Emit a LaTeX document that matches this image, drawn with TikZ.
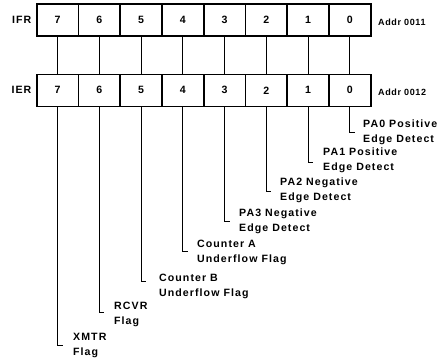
\documentclass[tikz,border=0pt]{standalone}
\usepackage{fontspec}
\newfontfamily\labfont{Liberation Sans}[LetterSpace=10]
\newfontfamily\addrfont{Liberation Sans}[LetterSpace=7]
\begin{document}
\begin{tikzpicture}[x=1pt,y=-1pt,
  lab/.style={font=\labfont\bfseries\fontsize{10.6}{15}\selectfont, inner sep=0pt},
  addr/.style={font=\addrfont\bfseries\fontsize{9}{11}\selectfont, inner sep=0pt, anchor=west},
  cell/.style={draw, line width=1.6pt, minimum width=41.75pt, minimum height=32pt, inner sep=0pt, font=\labfont\bfseries\fontsize{10.6}{12}\selectfont},
  thin/.style={line width=0.8pt},
  desc/.style={lab, align=left, anchor=west}]
\useasboundingbox (0,0) rectangle (446,359);
% registers
\foreach \b [count=\i from 0] in {7,6,5,4,3,2,1,0} {
  \node[cell] (ifr\b) at ({57.6+41.75*\i},20.2) {\b};
  \node[cell] (ier\b) at ({57.6+41.75*\i},90.3) {\b};
}
\foreach \b in {7,6,5,4,3,2,1,0} {
  \draw[thin] (ifr\b.south) -- (ier\b.north);
}
\node[lab, anchor=east] (ifrl) at (31.5,20.2) {IFR};
\node[lab, anchor=east] (ierl) at (31.5,90.3) {IER};
\node[addr] (a11) at (378,22.5) {Addr 0011};
\node[addr] (a12) at (378,92) {Addr 0012};
% descriptions
\coordinate (c0) at (355,132);
\coordinate (c1) at (313,162);
\coordinate (c2) at (271.4,191);
\coordinate (c3) at (229.6,221);
\coordinate (c4) at (188,251);
\coordinate (c5) at (146,281);
\coordinate (c6) at (104.3,312);
\coordinate (c7) at (62.6,345);
\foreach \b in {0,...,7} {
  \draw[thin] (ier\b.south) |- (c\b);
}
\node[desc] (d0) at (363,132.5) {PA0 Positive\\Edge Detect};
\node[desc] (d1) at (323,160.5) {PA1 Positive\\Edge Detect};
\node[desc] (d2) at (280,190.5) {PA2 Negative\\Edge Detect};
\node[desc] (d3) at (239,221) {PA3 Negative\\Edge Detect};
\node[desc] (d4) at (197,252.5) {Counter A\\Underflow Flag};
\node[desc] (d5) at (159,286) {Counter B\\Underflow Flag};
\node[desc] (d6) at (114,314.5) {RCVR\\Flag};
\node[desc] (d7) at (73,345.5) {XMTR\\Flag};
\end{tikzpicture}
\end{document}
